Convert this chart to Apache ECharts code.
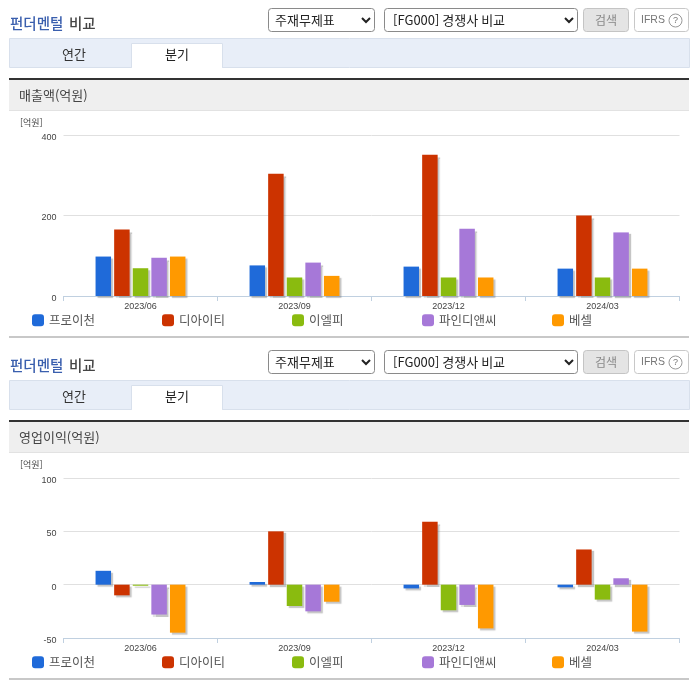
<!DOCTYPE html>
<html lang="ko"><head><meta charset="utf-8">
<style>html,body{margin:0;padding:0;background:#fff}#c{width:696px;height:684px}</style>
<script src="https://cdn.jsdelivr.net/npm/echarts@6/dist/echarts.min.js"></script>
</head><body><div id="c"></div>
<script>
const categories = ['2023/06','2023/09','2023/12','2024/03'];
const seriesNames = ['프로이천','디아이티','이엘피','파인디앤씨','베셀'];
const seriesColors = ['#1f6ad9','#cc3300','#8abb0f','#a678d8','#ff9900'];
const salesProchem = [98,76,73,68];
const salesDit = [165,304,351,200];
const salesElp = [69,46,46,46];
const salesFinedns = [95,83,167,158];
const salesVessel = [98,50,46,68];
const profitProchem = [13,2.5,-3.5,-2.5];
const profitDit = [-10,50,59,33];
const profitElp = [-1,-20,-24,-14];
const profitFinedns = [-28,-25,-19,6];
const profitVessel = [-45,-16,-41,-44];
const salesTicks = {min:0,max:400,interval:200};
const profitTicks = {min:-50,max:100,interval:50};

const CJK = '"Noto Sans CJK KR","Liberation Sans",sans-serif';
const LAT = '"Liberation Sans",Arial,sans-serif';
const panels = [
  {dy:0, top:135, height:161, metric:'매출액(억원)', data:[salesProchem,salesDit,salesElp,salesFinedns,salesVessel], ticks:salesTicks},
  {dy:342, top:478, height:160, metric:'영업이익(억원)', data:[profitProchem,profitDit,profitElp,profitFinedns,profitVessel], ticks:profitTicks}
];
const rect=(x,y,w,h,fill,stroke,r)=>({type:'rect',silent:true,shape:{x,y,width:w,height:h,r:r||0},style:{fill:fill,stroke:stroke||null,lineWidth:stroke?1:0}});
const text=(x,y,t,size,fill,opt)=>({type:'text',silent:true,x,y,z:10,style:Object.assign({text:t,fontSize:size,fontFamily:CJK,fill:fill,verticalAlign:'middle',align:'left'},opt||{})});
const chevron=(x,y)=>({type:'polyline',silent:true,shape:{points:[[x,y],[x+4,y+4],[x+8,y]]},style:{stroke:'#222',lineWidth:2,fill:null}});

const graphic=[], grid=[], xAxis=[], yAxis=[], legend=[], series=[];
panels.forEach((p,i)=>{
  const d=p.dy;
  graphic.push(
    text(10,23+d,'펀더멘털',14.5,'#3a5fae',{fontWeight:500}),
    text(69,23+d,'비교',14.5,'#444',{fontWeight:500}),
    rect(268.5,8.5+d,106,23,'#fff','#8a8a8a',3),
    text(275,20+d,'주재무제표',13,'#222'),
    chevron(362,18+d),
    rect(384.5,8.5+d,193,23,'#fff','#8a8a8a',3),
    text(393,20+d,'[FG000] 경쟁사 비교',13,'#222'),
    chevron(565,18+d),
    rect(583.5,8.5+d,45,23,'#e4e4e4','#c4c4c4',3),
    text(606,20+d,'검색',12,'#888',{align:'center'}),
    rect(634.5,8.5+d,54,23,'#fff','#c8c8c8',3),
    text(641,20+d,'IFRS',10.5,'#777',{fontFamily:LAT}),
    {type:'circle',silent:true,shape:{cx:675.5,cy:20.5+d,r:6.5},style:{fill:'#fff',stroke:'#999',lineWidth:1}},
    text(675.5,20.5+d,'?',9,'#777',{align:'center',fontFamily:LAT}),
    rect(9.5,38.5+d,680,29,'#e8eef8','#d8e0ec'),
    rect(131.5,43.5+d,91,24,'#fff','#d8e0ec'),
    rect(132,66+d,90,2,'#fff'),
    text(74,54.5+d,'연간',13,'#333',{align:'center'}),
    text(177,54.5+d,'분기',13,'#222',{align:'center'}),
    rect(9,78+d,680,2,'#333'),
    rect(9,80+d,680,30,'#efefef'),
    rect(9,110+d,680,1,'#e2e2e2'),
    text(19,95+d,p.metric,13,'#444'),
    text(20,122.5+d,'[억원]',9,'#444'),
    rect(9,336+d,680,2,'#c8c8c8')
  );
  grid.push({left:63.5,width:616,top:p.top,height:p.height,containLabel:false});
  xAxis.push({type:'category',gridIndex:i,data:categories,
    axisLine:{onZero:false,lineStyle:{color:'#c0d0e0',width:1}},
    axisTick:{show:true,length:5,lineStyle:{color:'#c0d0e0'}},
    axisLabel:{fontSize:9,color:'#444',fontFamily:LAT,margin:6},splitLine:{show:false}});
  yAxis.push(Object.assign({type:'value',gridIndex:i,axisLine:{show:false},axisTick:{show:false},
    axisLabel:{fontSize:9,color:'#444',fontFamily:LAT,margin:7,verticalAlign:'top',lineHeight:5},
    splitLine:{lineStyle:{color:'#e0e0e0',width:1}}},p.ticks));
  seriesNames.forEach((name,k)=>{
    legend.push({show:true,data:[name],left:32+130*k,top:(i?656:314),padding:0,itemWidth:12,itemHeight:12,itemGap:0,icon:'roundRect',selectedMode:false,
      textStyle:{fontSize:12.5,color:'#555',fontFamily:CJK,padding:[0,0,0,0]}});
    series.push({type:'bar',name,xAxisIndex:i,yAxisIndex:i,data:p.data[k],barWidth:15.5,barGap:'20%',animation:false,silent:true,
      itemStyle:{color:seriesColors[k],shadowColor:'rgba(110,110,110,0.4)',shadowBlur:1,shadowOffsetX:2,shadowOffsetY:2}});
  });
});
const chart=echarts.init(document.getElementById('c'));
chart.setOption({animation:false,backgroundColor:'#fff',graphic:{elements:graphic},grid,xAxis,yAxis,legend,series,tooltip:{show:false}});
</script></body></html>
